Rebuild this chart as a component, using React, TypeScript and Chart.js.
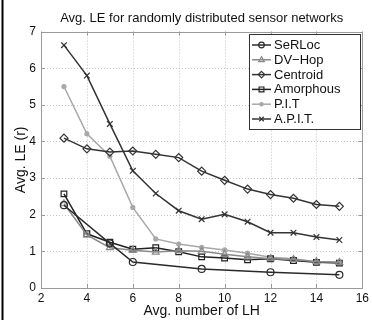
import React, { useEffect, useRef } from "react";
import { Chart, registerables } from "chart.js";

Chart.register(...registerables);

const xFull = [3, 4, 5, 6, 7, 8, 9, 10, 11, 12, 13, 14, 15];
const serlocX = [3, 5, 6, 9, 12, 15];
const serloc = [2.26, 1.22, 0.71, 0.52, 0.43, 0.36];
const dvhop = [2.3, 1.45, 1.1, 1.03, 0.98, 1.02, 1.0, 0.92, 0.85, 0.8, 0.78, 0.72, 0.7];
const centroid = [4.09, 3.8, 3.71, 3.74, 3.65, 3.56, 3.19, 2.94, 2.7, 2.55, 2.45, 2.28, 2.23];
const amorphous = [2.57, 1.48, 1.25, 1.06, 1.1, 0.99, 0.85, 0.82, 0.77, 0.8, 0.75, 0.7, 0.68];
const pit = [5.5, 4.21, 3.6, 2.2, 1.34, 1.2, 1.11, 1.04, 0.95, 0.84, 0.8, 0.72, 0.7];
const apit = [6.63, 5.8, 4.48, 3.2, 2.58, 2.11, 1.88, 2.01, 1.81, 1.51, 1.51, 1.39, 1.31];

const seriesNames = ["SeRLoc", "DV\u2212Hop", "Centroid", "Amorphous", "P.I.T", "A.P.I.T."];
const xTicks = [2, 4, 6, 8, 10, 12, 14, 16];
const yTicks = [0, 1, 2, 3, 4, 5, 6, 7];

const FONT = "'Liberation Sans', Arial, Helvetica, sans-serif";

const toPts = (xs: number[], ys: number[]) => ys.map((y, i) => ({ x: xs[i], y }));

type Style = { color: string; fill: string; shape: string; r: number };

function drawMarker(ctx: CanvasRenderingContext2D, shape: string, x: number, y: number, r: number, color: string, fill: string) {
  ctx.save();
  ctx.strokeStyle = color;
  ctx.fillStyle = fill;
  ctx.lineWidth = 1.2;
  ctx.beginPath();
  if (shape === "circle") {
    ctx.arc(x, y, r, 0, Math.PI * 2);
  } else if (shape === "triangle") {
    ctx.moveTo(x, y - r);
    ctx.lineTo(x + r * 0.9, y + r * 0.6);
    ctx.lineTo(x - r * 0.9, y + r * 0.6);
    ctx.closePath();
  } else if (shape === "rectRot") {
    ctx.moveTo(x, y - r);
    ctx.lineTo(x + r, y);
    ctx.lineTo(x, y + r);
    ctx.lineTo(x - r, y);
    ctx.closePath();
  } else if (shape === "rect") {
    ctx.rect(x - r * 0.75, y - r * 0.75, r * 1.5, r * 1.5);
  } else if (shape === "crossRot") {
    const d = r * 0.7;
    ctx.moveTo(x - d, y - d);
    ctx.lineTo(x + d, y + d);
    ctx.moveTo(x + d, y - d);
    ctx.lineTo(x - d, y + d);
  }
  if (shape !== "crossRot") ctx.fill();
  ctx.stroke();
  ctx.restore();
}

export default function App() {
  const ref = useRef<HTMLCanvasElement>(null);

  useEffect(() => {
    const canvas = ref.current;
    if (!canvas) return;

    const styles: Style[] = [
      { color: "#2a2a2a", fill: "rgba(255,255,255,0)", shape: "circle", r: 3.5 },
      { color: "#8a8a8a", fill: "rgba(255,255,255,0)", shape: "triangle", r: 4 },
      { color: "#333333", fill: "rgba(255,255,255,0)", shape: "rectRot", r: 4 },
      { color: "#222222", fill: "rgba(255,255,255,0)", shape: "rect", r: 4 },
      { color: "#a8a8a8", fill: "#a8a8a8", shape: "circle", r: 2 },
      { color: "#333333", fill: "rgba(255,255,255,0)", shape: "crossRot", r: 4 },
    ];

    const dataSets = [
      toPts(serlocX, serloc),
      toPts(xFull, dvhop),
      toPts(xFull, centroid),
      toPts(xFull, amorphous),
      toPts(xFull, pit),
      toPts(xFull, apit),
    ];

    const frame = {
      id: "frame",
      beforeDraw(chart: any) {
        const ctx = chart.ctx;
        ctx.save();
        ctx.fillStyle = "#ffffff";
        ctx.fillRect(0, 0, chart.width, chart.height);
        ctx.fillStyle = "#000000";
        ctx.fillRect(1.5, 0, 2, chart.height);
        ctx.restore();
      },
      beforeDatasetsDraw(chart: any) {
        const { ctx, chartArea: a, scales } = chart;
        ctx.save();
        ctx.strokeStyle = "#c4c4c4";
        ctx.lineWidth = 1;
        ctx.setLineDash([1, 2]);
        ctx.beginPath();
        xTicks.forEach((v) => {
          const px = Math.round(scales.x.getPixelForValue(v)) + 0.5;
          ctx.moveTo(px, a.top);
          ctx.lineTo(px, a.bottom);
        });
        yTicks.forEach((v) => {
          const py = Math.round(scales.y.getPixelForValue(v)) + 0.5;
          ctx.moveTo(a.left, py);
          ctx.lineTo(a.right, py);
        });
        ctx.stroke();
        ctx.setLineDash([]);
        ctx.strokeStyle = "#9a9a9a";
        ctx.strokeRect(Math.round(a.left) + 0.5, Math.round(a.top) + 0.5, Math.round(a.right - a.left), Math.round(a.bottom - a.top));
        const tl = 4;
        ctx.beginPath();
        xTicks.forEach((v) => {
          const px = Math.round(scales.x.getPixelForValue(v)) + 0.5;
          ctx.moveTo(px, a.bottom);
          ctx.lineTo(px, a.bottom - tl);
          ctx.moveTo(px, a.top);
          ctx.lineTo(px, a.top + tl);
        });
        yTicks.forEach((v) => {
          const py = Math.round(scales.y.getPixelForValue(v)) + 0.5;
          ctx.moveTo(a.left, py);
          ctx.lineTo(a.left + tl, py);
          ctx.moveTo(a.right, py);
          ctx.lineTo(a.right - tl, py);
        });
        ctx.stroke();
        ctx.restore();
      },
      afterDatasetsDraw(chart: any) {
        const { ctx, chartArea: a } = chart;
        const bw = 111;
        const bh = 95;
        const bx = Math.round(a.right - 2 - bw);
        const by = Math.round(a.top + 2.5);
        ctx.save();
        ctx.fillStyle = "#ffffff";
        ctx.fillRect(bx, by, bw, bh);
        ctx.strokeStyle = "#333333";
        ctx.lineWidth = 1;
        ctx.strokeRect(bx + 0.5, by + 0.5, bw, bh);
        ctx.font = "13px " + FONT;
        ctx.textBaseline = "middle";
        ctx.textAlign = "left";
        seriesNames.forEach((name, i) => {
          const s = styles[i];
          const y = by + 11 + i * 14.8;
          ctx.strokeStyle = s.color;
          ctx.lineWidth = 1.5;
          ctx.beginPath();
          ctx.moveTo(bx + 3, y);
          ctx.lineTo(bx + 22, y);
          ctx.stroke();
          drawMarker(ctx, s.shape, bx + 12.5, y, s.r * 0.8, s.color, s.fill);
          ctx.fillStyle = "#111111";
          ctx.fillText(name, bx + 25, y + 0.5);
        });
        ctx.restore();
      },
    };

    const chart = new Chart(canvas, {
      type: "line",
      data: {
        datasets: dataSets.map((d, i) => ({
          label: seriesNames[i],
          data: d,
          borderColor: styles[i].color,
          backgroundColor: styles[i].fill,
          pointBorderColor: styles[i].color,
          pointBackgroundColor: styles[i].fill,
          pointStyle: styles[i].shape as any,
          pointRadius: styles[i].r,
          pointBorderWidth: 1.2,
          borderWidth: 1.5,
          tension: 0,
          fill: false,
        })),
      },
      options: {
        responsive: false,
        animation: false,
        events: [],
        layout: { padding: { left: 0, right: 6, top: 0, bottom: 0 } },
        plugins: {
          legend: { display: false },
          tooltip: { enabled: false },
          title: {
            display: true,
            fullSize: false,
            text: "Avg. LE for randomly distributed sensor networks",
            color: "#111111",
            font: { family: FONT, size: 13, weight: "normal" },
            padding: { top: 11, bottom: 5 },
          },
        },
        scales: {
          x: {
            type: "linear",
            min: 2,
            max: 16,
            afterFit: (s: any) => {
              s.height = 32;
            },
            afterBuildTicks: (s: any) => {
              s.ticks = xTicks.map((v) => ({ value: v }));
            },
            grid: { display: false, drawTicks: false },
            border: { display: false },
            ticks: {
              color: "#111111",
              font: { family: FONT, size: 12 },
              padding: 3,
              maxRotation: 0,
            },
            title: {
              display: true,
              text: "Avg. number of LH",
              color: "#111111",
              font: { family: FONT, size: 14 },
              padding: { top: 0, bottom: 0 },
            },
          },
          y: {
            type: "linear",
            min: 0,
            max: 7,
            afterFit: (s: any) => {
              s.width = 41;
            },
            afterBuildTicks: (s: any) => {
              s.ticks = yTicks.map((v) => ({ value: v }));
            },
            grid: { display: false, drawTicks: false },
            border: { display: false },
            ticks: {
              color: "#111111",
              font: { family: FONT, size: 12 },
              padding: 5,
            },
            title: {
              display: true,
              text: "Avg. LE (r)",
              color: "#111111",
              font: { family: FONT, size: 14 },
              padding: { top: 13, bottom: 0 },
            },
          },
        },
      },
      plugins: [frame],
    });

    return () => chart.destroy();
  }, []);

  return (
    <div style={{ position: "absolute", left: 0, top: 0, width: 372, height: 320, background: "#fff" }}>
      <canvas ref={ref} width={372} height={320} style={{ display: "block", width: 372, height: 320 }} />
    </div>
  );
}
